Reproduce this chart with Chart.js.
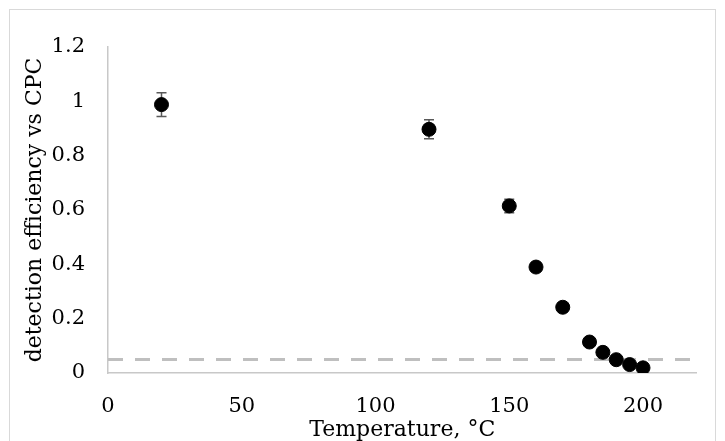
<!DOCTYPE html>
<html>
<head>
<meta charset="utf-8">
<script src="https://cdn.jsdelivr.net/npm/chart.js@4/dist/chart.umd.min.js"></script>
<style>
  html, body { margin: 0; padding: 0; background: #fff; }
  #wrap { position: relative; width: 725px; height: 441px; }
  #frame { position: absolute; left: 9px; top: 9px; width: 707px; height: 440px; border: 1px solid #D9D9D9; box-sizing: border-box; }
  canvas { position: absolute; left: 0; top: 0; }
</style>
</head>
<body>
<div id="wrap">
  <div id="frame"></div>
  <canvas id="chart" width="725" height="441"></canvas>
</div>
<script>
// temperature (°C) and detection efficiency
const temps = [20, 120, 150, 160, 170, 180, 185, 190, 195, 200];
const efficiency = [0.988, 0.897, 0.615, 0.39, 0.242, 0.114, 0.076, 0.049, 0.031, 0.019];
const errors = [0.044, 0.035, 0.025, 0.01, 0.008, 0.006, 0.005, 0.004, 0.004, 0.003];

// dashed reference level
const refX = [0, 220];
const refLevel = 0.05;

const xTicks = [0, 50, 100, 150, 200];
const yTicks = ['0', '0.2', '0.4', '0.6', '0.8', '1', '1.2'];

const serif = 'DejaVu Serif';

// error bars drawn with the chart scales
const errorBars = {
  id: 'errorBars',
  beforeDatasetsDraw(chart) {
    const { ctx, scales: { x, y } } = chart;
    ctx.save();
    ctx.strokeStyle = '#595959';
    ctx.lineWidth = 1.5;
    temps.forEach((t, i) => {
      const px = x.getPixelForValue(t);
      const top = y.getPixelForValue(efficiency[i] + errors[i]);
      const bot = y.getPixelForValue(efficiency[i] - errors[i]);
      ctx.beginPath();
      ctx.moveTo(px, top); ctx.lineTo(px, bot);
      ctx.moveTo(px - 5, top); ctx.lineTo(px + 5, top);
      ctx.moveTo(px - 5, bot); ctx.lineTo(px + 5, bot);
      ctx.stroke();
    });
    ctx.restore();
  }
};

new Chart(document.getElementById('chart').getContext('2d'), {
  type: 'scatter',
  data: {
    datasets: [{
      label: 'efficiency',
      data: temps.map((t, i) => ({ x: t, y: efficiency[i] })),
      backgroundColor: '#000',
      borderColor: '#000',
      pointRadius: 7,
      order: 1
    }, {
      type: 'line',
      label: 'limit',
      data: refX.map(t => ({ x: t, y: refLevel })),
      borderColor: '#BFBFBF',
      borderWidth: 3,
      borderDash: [15, 12],
      pointRadius: 0,
      fill: false,
      order: 2
    }]
  },
  options: {
    responsive: false,
    animation: false,
    layout: { padding: { left: 0, top: 47, right: 28.5, bottom: 0 } },
    plugins: { legend: { display: false }, tooltip: { enabled: false } },
    scales: {
      x: {
        type: 'linear',
        min: 0, max: 220,
        afterBuildTicks: s => { s.ticks = xTicks.map(v => ({ value: v })); },
        afterFit: s => { s.height = 68; },
        grid: { display: false, drawTicks: false, tickLength: 0 },
        border: { display: true, color: '#C8C8C8', width: 1.5 },
        ticks: { padding: 21, color: '#000', font: { family: serif, size: 21 } },
        title: {
          display: true, text: 'Temperature, °C', color: '#000',
          font: { family: serif, size: 22, lineHeight: 1 },
          padding: { top: 0, bottom: 0 }
        }
      },
      y: {
        min: 0, max: 1.2,
        afterBuildTicks: s => { s.ticks = yTicks.map(v => ({ value: parseFloat(v) })); },
        afterFit: s => { s.width = 108; },
        grid: { display: false, drawTicks: false, tickLength: 0 },
        border: { display: true, color: '#C8C8C8', width: 1.5 },
        ticks: {
          padding: 23, color: '#000', font: { family: serif, size: 21 },
          callback: (v, i) => yTicks[i]
        },
        title: {
          display: true, text: 'detection efficiency vs CPC', color: '#000',
          font: { family: serif, size: 22, lineHeight: 1 },
          padding: { top: 24, bottom: 0 }
        }
      }
    }
  },
  plugins: [errorBars]
});
</script>
</body>
</html>
